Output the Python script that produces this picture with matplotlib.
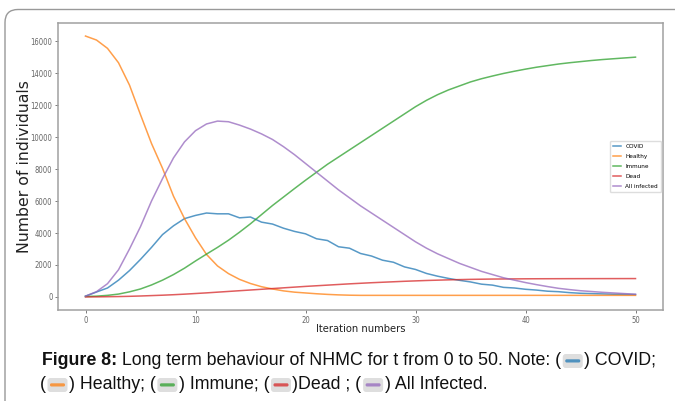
import matplotlib
matplotlib.use("Agg")
import matplotlib.pyplot as plt
from matplotlib import font_manager
from matplotlib.font_manager import FontProperties
from matplotlib.patches import FancyBboxPatch
from matplotlib.transforms import IdentityTransform
import numpy as np

# values
t = np.arange(51)
covid = [50, 310, 560, 1050, 1650, 2350, 3100, 3900, 4450, 4900, 5100,
         5250, 5200, 5200, 4950, 5000, 4680, 4560, 4300, 4100, 3950,
         3640, 3530, 3140, 3050, 2720, 2560, 2300, 2170, 1880, 1720,
         1470, 1300, 1160, 1040, 940, 800, 740, 600, 560, 480,
         430, 360, 330, 270, 230, 210, 190, 170, 160, 150]
healthy = [16320, 16070, 15550, 14650, 13250, 11400, 9600, 8050, 6300, 4900, 3700,
           2660, 1940, 1460, 1100, 840, 640, 500, 380, 300, 250,
           200, 160, 130, 110, 100, 100, 100, 100, 100, 100,
           100, 100, 100, 100, 100, 100, 100, 100, 100, 100,
           100, 100, 100, 100, 100, 100, 100, 100, 100, 100]
immune = [30, 50, 100, 180, 320, 500, 750, 1050, 1400, 1800, 2250,
          2680, 3100, 3550, 4050, 4580, 5150, 5720, 6250, 6780, 7300,
          7800, 8300, 8750, 9200, 9650, 10100, 10550, 11000, 11450, 11900,
          12300, 12650, 12950, 13200, 13450, 13650, 13820, 13980, 14120, 14250,
          14370, 14470, 14570, 14650, 14720, 14790, 14850, 14900, 14950, 15000]
dead = [0, 5, 15, 25, 40, 60, 85, 110, 140, 175, 215,
        255, 300, 345, 390, 435, 480, 525, 570, 615, 660,
        700, 740, 780, 820, 855, 890, 920, 950, 980, 1005,
        1030, 1050, 1070, 1085, 1100, 1110, 1120, 1125, 1130, 1135,
        1138, 1140, 1142, 1144, 1145, 1146, 1147, 1148, 1149, 1150]
all_infected = [50, 330, 830, 1700, 3000, 4400, 6000, 7400, 8700, 9700, 10400,
                10820, 11000, 10960, 10750, 10500, 10200, 9850, 9400, 8900, 8350,
                7800, 7250, 6700, 6200, 5700, 5250, 4800, 4350, 3900, 3450,
                3050, 2700, 2400, 2100, 1850, 1600, 1400, 1200, 1050, 900,
                770, 650, 540, 460, 390, 340, 290, 250, 210, 170]

series = [("COVID", covid), ("Healthy", healthy), ("Immune", immune),
          ("Dead", dead), ("All infected", all_infected)]
colors = ["#1f77b4", "#ff7f0e", "#2ca02c", "#d62728", "#9467bd"]
xticks = [0, 10, 20, 30, 40, 50]
yticks = [0, 2000, 4000, 6000, 8000, 10000, 12000, 14000, 16000]


# a condensed face if one is installed, otherwise plain Liberation Sans
def narrow_font(size):
    cands = []
    for f in font_manager.fontManager.ttflist:
        st = str(f.stretch).lower()
        if ("condensed" in st or "narrow" in f.name.lower()) and f.style == "normal" \
                and str(f.weight) in ("400", "normal", "regular", "book"):
            cands.append(f)
    cands.sort(key=lambda f: (0 if "DejaVu" in f.name else 1, f.name))
    if cands:
        return FontProperties(fname=cands[0].fname, size=size), True
    return FontProperties(family="Liberation Sans", size=size), False


tick_fp, have_narrow = narrow_font(5.5)
if not have_narrow:
    tick_fp.set_size(4.8)
xlab_fp, _ = narrow_font(8 if have_narrow else 7.2)
leg_fp, _ = narrow_font(4.6 if have_narrow else 4.2)

fig = plt.figure(figsize=(6.75, 4.01), dpi=100)
ax = fig.add_axes([58 / 675, 1 - 310 / 401, (663 - 58) / 675, (310 - 23) / 401])

for (name, vals), c in zip(series, colors):
    ax.plot(t, vals, color=c, lw=1.1, alpha=0.75, label=name)

ax.set_xticks(xticks)
ax.set_yticks(yticks)
ax.tick_params(length=2, width=0.6, colors="#666666", pad=2)
for lab in ax.get_xticklabels() + ax.get_yticklabels():
    lab.set_fontproperties(tick_fp)
for s in ax.spines.values():
    s.set_color("#a0a0a0")
    s.set_linewidth(1.1)

ax.set_xlabel("Iteration numbers", fontproperties=xlab_fp, color="#222222")
ax.xaxis.set_label_coords(0.50, -0.05)
ax.set_ylabel("Number of individuals", fontsize=11.3, family="DejaVu Sans", color="#222222")
ax.yaxis.set_label_coords(-0.043, 0.5)

leg = ax.legend(loc="center right", prop=leg_fp, handlelength=1.3, handletextpad=0.6,
                labelspacing=0.7, borderpad=0.5, framealpha=1, edgecolor="#dddddd",
                borderaxespad=0.3)

# rounded frame around the screenshot
frame = FancyBboxPatch((5, 401 - 9.5 - 700), 900, 700,
                       boxstyle="round,pad=0,rounding_size=13",
                       transform=IdentityTransform(), fill=False,
                       edgecolor="#999999", lw=1.0)
fig.add_artist(frame)

# caption with little colour swatches
renderer = fig.canvas.get_renderer()
fs = 12.8


def put_text(x, y, s, bold=False):
    txt = fig.text(x, y, s, fontsize=fs, family="Liberation Sans", va="baseline",
                   weight="bold" if bold else "normal", color="#111111",
                   transform=IdentityTransform())
    return txt.get_window_extent(renderer).x1


def put_swatch(x, y, c):
    w, h = 23, 14
    box = FancyBboxPatch((x + 1.5, y - 3), w - 3, h, boxstyle="round,pad=0,rounding_size=3",
                         transform=IdentityTransform(), facecolor="#dedede",
                         edgecolor="none")
    fig.add_artist(box)
    bar = FancyBboxPatch((x + 4, y + 2.5), w - 8, 3.2, boxstyle="round,pad=0,rounding_size=1.4",
                         transform=IdentityTransform(), facecolor=c, alpha=0.75,
                         edgecolor="none")
    fig.add_artist(bar)
    return x + w


line1 = 401 - 365
line2 = 401 - 389
x = 42
x = put_text(x, line1, "Figure 8:", bold=True)
x = put_text(x, line1, " Long term behaviour of NHMC for t from 0 to 50. Note: (")
x = put_swatch(x, line1, colors[0])
put_text(x, line1, ") COVID;")

pieces = [("(", colors[1]), (") Healthy; (", colors[2]), (") Immune; (", colors[3]),
          (")Dead ; (", colors[4]), (") All Infected.", None)]
x = 40
for s, c in pieces:
    x = put_text(x, line2, s)
    if c is not None:
        x = put_swatch(x, line2, c)

fig.savefig("out.png", dpi=100)
